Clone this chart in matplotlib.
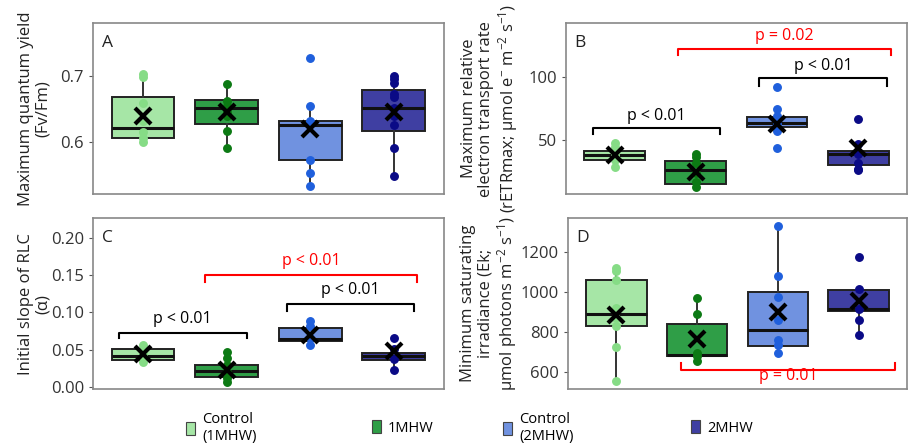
import matplotlib
matplotlib.use("Agg")
import matplotlib.pyplot as plt
from matplotlib.patches import Patch

plt.rcParams['font.family'] = ['Open Sans', 'DejaVu Sans']
plt.rcParams['mathtext.default'] = 'regular'

groups = ['Control\n(1MHW)', '1MHW', 'Control\n(2MHW)', '2MHW']
fills = ['#a6e6a6', '#2f9e47', '#7092e0', '#3f3fa2']
dots = ['#86dc86', '#0c7a14', '#1f5fdc', '#0a0a86']

# box stats per panel: q1, med, q3, whislo, whishi, mean
fv_box = [(0.606, 0.621, 0.668, 0.600, 0.703, 0.640),
          (0.627, 0.651, 0.664, 0.591, 0.688, 0.645),
          (0.573, 0.625, 0.632, 0.533, 0.654, 0.619),
          (0.616, 0.651, 0.678, 0.548, 0.700, 0.645)]
fv_pts = [[0.703, 0.698, 0.659, 0.632, 0.615, 0.606, 0.600],
          [0.688, 0.662, 0.655, 0.645, 0.640, 0.617, 0.591],
          [0.727, 0.654, 0.632, 0.630, 0.573, 0.553, 0.533],
          [0.700, 0.696, 0.690, 0.672, 0.668, 0.652, 0.640, 0.625, 0.591, 0.548]]

etr_box = [(34.0, 37.5, 40.7, 28.0, 47.5, 37.5),
           (14.3, 25.5, 33.0, 12.0, 38.3, 24.0),
           (60.1, 63.3, 68.3, 57.4, 69.4, 62.8),
           (29.6, 38.3, 41.0, 25.5, 46.8, 43.0)]
etr_pts = [[47.5, 44.5, 38.0, 36.5, 34.0, 28.0],
           [38.3, 36.0, 31.0, 23.0, 16.0, 12.0],
           [92.5, 74.7, 69.4, 63.0, 57.4, 43.6],
           [66.5, 46.8, 38.8, 31.0, 26.8, 25.5]]

alpha_box = [(0.0363, 0.0417, 0.0506, 0.034, 0.056, 0.044),
             (0.013, 0.0206, 0.0287, 0.006, 0.047, 0.023),
             (0.061, 0.064, 0.0797, 0.056, 0.088, 0.070),
             (0.036, 0.0417, 0.046, 0.023, 0.051, 0.0475)]
alpha_pts = [[0.056, 0.050, 0.044, 0.040, 0.034],
             [0.047, 0.0385, 0.030, 0.020, 0.012, 0.006],
             [0.088, 0.082, 0.065, 0.056],
             [0.066, 0.051, 0.038, 0.023]]

ek_box = [(830, 890, 1058, 553, 1120, 887),
          (680, 683, 842, 653, 970, 765),
          (728, 808, 1000, 695, 1333, 900),
          (907, 915, 1008, 787, 1017, 953)]
ek_pts = [[1120, 1107, 1062, 920, 870, 828, 723, 553],
          [970, 892, 695, 678, 653],
          [1333, 1078, 975, 862, 762, 737, 695],
          [1175, 1017, 917, 862, 787]]

# brackets: x start, x end, y bar, y leg, text y, label, colour
fv_brk = []
etr_brk = [(0.73, 2.30, 59.7, 54.8, 63, 'p < 0.01', 'black'),
           (2.78, 4.35, 99.2, 93.5, 103, 'p < 0.01', 'black'),
           (1.78, 4.40, 122.6, 117.7, 126.5, 'p = 0.02', 'red')]
alpha_brk = [(0.71, 2.24, 0.073, 0.0654, 0.081, 'p < 0.01', 'black'),
             (2.72, 4.24, 0.111, 0.102, 0.119, 'p < 0.01', 'black'),
             (1.74, 4.28, 0.150, 0.141, 0.158, 'p < 0.01', 'red')]
ek_brk = [(1.80, 4.45, 612, 645, 538, 'p = 0.01', 'red')]

panels = [
    ('A', fv_box, fv_pts, fv_brk, (0.521, 0.780), [0.6, 0.7], ['0.6', '0.7'],
     'Maximum quantum yield\n(Fv/Fm)', [0.1023, 0.564, 0.386, 0.384], -0.12),
    ('B', etr_box, etr_pts, etr_brk, (6.5, 143.5), [50, 100], ['50', '100'],
     'Maximum relative\nelectron transport rate\n(rETRmax; µmol e$^{-}$ m$^{-2}$ s$^{-1}$)',
     [0.6227, 0.564, 0.375, 0.384], -0.135),
    ('C', alpha_box, alpha_pts, alpha_brk, (-0.003, 0.227), [0, 0.05, 0.1, 0.15, 0.2],
     ['0.00', '0.05', '0.10', '0.15', '0.20'],
     'Initial slope of RLC\n(α)', [0.1023, 0.1258, 0.386, 0.384], -0.12),
    ('D', ek_box, ek_pts, ek_brk, (515, 1370), [600, 800, 1000, 1200],
     ['600', '800', '1000', '1200'],
     'Minimum saturating\nirradiance (Ek;\nµmol photons m$^{-2}$ s$^{-1}$)',
     [0.6249, 0.1258, 0.373, 0.384], -0.145),
]

fig = plt.figure(figsize=(9.09, 4.45), dpi=100)

for letter, boxes, pts, brk, ylim, yt, ytl, ylab, pos, labx in panels:
    ax = fig.add_axes(pos)
    stats = []
    for q1, med, q3, lo, hi, mean in boxes:
        stats.append({'q1': q1, 'med': med, 'q3': q3, 'whislo': lo,
                      'whishi': hi, 'mean': mean, 'fliers': []})
    xs = [1, 2, 3, 4]
    bp = ax.bxp(stats, positions=xs, widths=0.75, patch_artist=True,
                showcaps=False, showfliers=False, showmeans=False,
                boxprops=dict(edgecolor='#222222', linewidth=1.4),
                whiskerprops=dict(color='#333333', linewidth=1.4),
                medianprops=dict(color='#111111', linewidth=2.2))
    for patch, c in zip(bp['boxes'], fills):
        patch.set_facecolor(c)
    for x, p, c in zip(xs, pts, dots):
        ax.plot([x] * len(p), p, 'o', color=c, ms=5.4, zorder=3)
    ax.plot(xs, [b[5] for b in boxes], 'x', color='black', ms=11, mew=3, zorder=4)
    for x1, x2, yb, yl, ty, lab, col in brk:
        ax.plot([x1, x1, x2, x2], [yl, yb, yb, yl], color=col, lw=1.5, zorder=5)
        ax.text((x1 + x2) / 2, ty, lab, color=col, ha='center', va='bottom', fontsize=11.5)
    ax.set_xlim(0.4, 4.6)
    ax.set_ylim(*ylim)
    ax.set_xticks([])
    ax.set_yticks(yt)
    ax.set_yticklabels(ytl)
    ax.tick_params(axis='y', colors='#555555', labelcolor='#333333', labelsize=12,
                   length=3, width=0.8)
    for s in ax.spines.values():
        s.set_color('#888888')
        s.set_linewidth(1.2)
    ax.set_ylabel(ylab, fontsize=12, color='#222222', linespacing=1.1)
    ax.yaxis.set_label_coords(labx, 0.5)
    ax.text(0.025, 0.93, letter, transform=ax.transAxes, fontsize=12.5,
            va='top', ha='left', color='#222222')

legend_x = [186, 372, 503, 691]
for g, fc, lx in zip(groups, fills, legend_x):
    h = Patch(facecolor=fc, edgecolor='#444444', linewidth=0.8)
    fig.legend([h], [g], loc='center left', bbox_to_anchor=(lx / 909, 1 - 428 / 445),
               frameon=False, fontsize=10.5, handlelength=0.6, handleheight=0.9,
               handletextpad=0.5, borderpad=0, borderaxespad=0, labelspacing=0.2)

fig.savefig('out.png', dpi=100)
